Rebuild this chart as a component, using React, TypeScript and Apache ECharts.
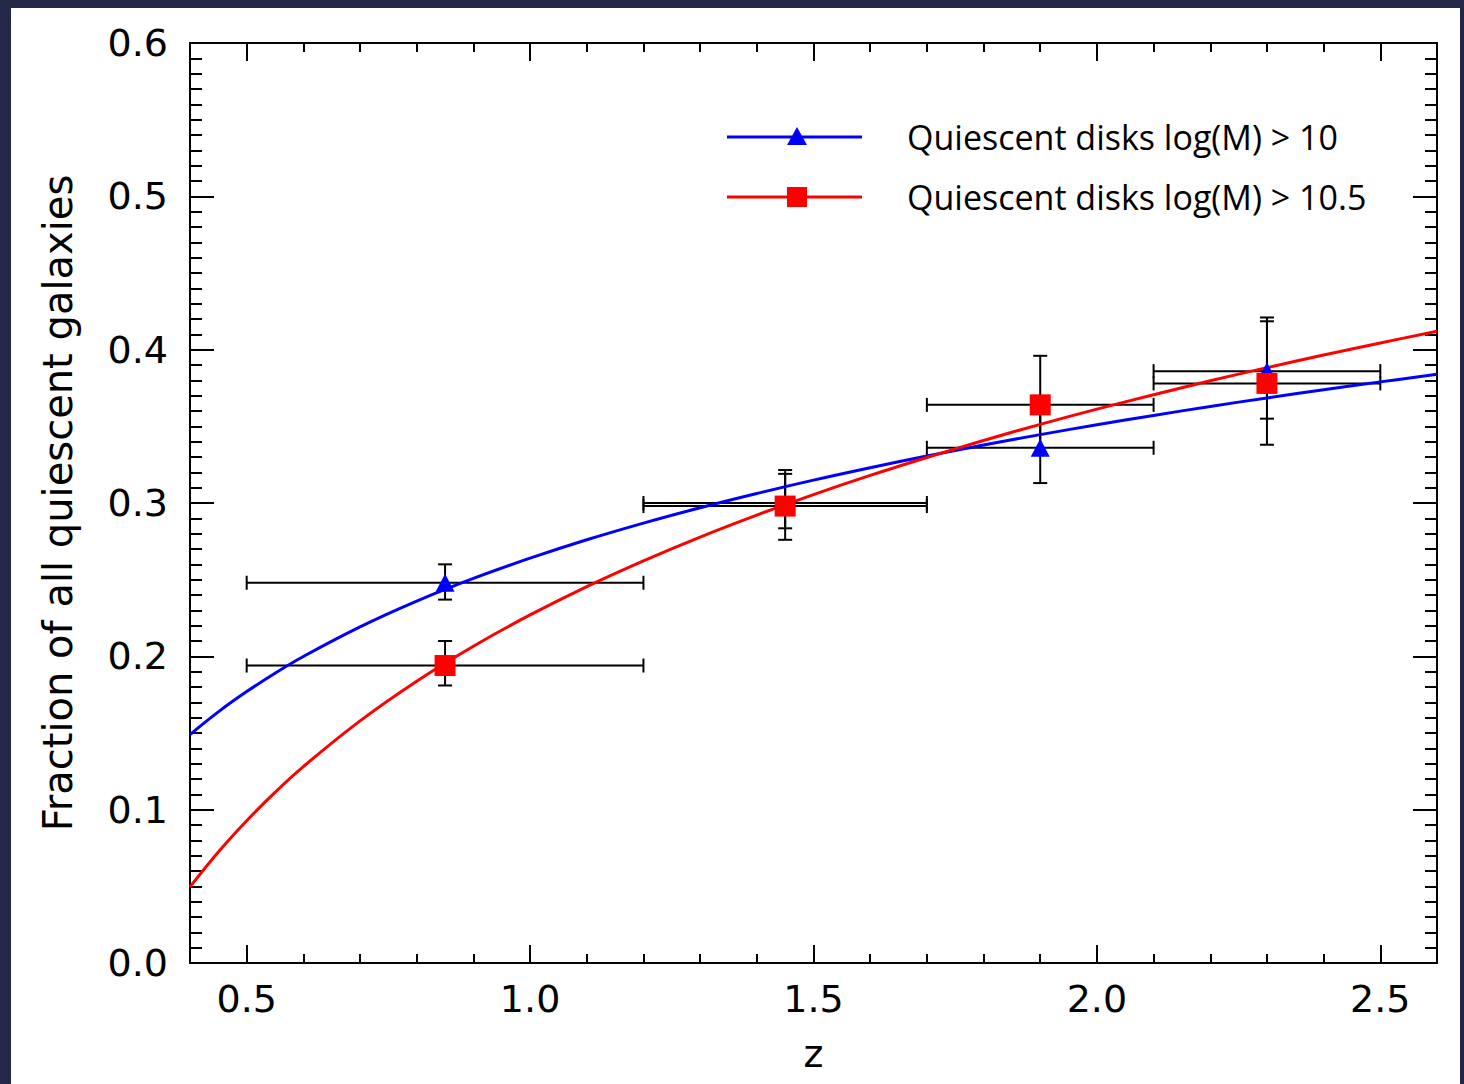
import React, { useEffect, useRef } from "react";
import * as echarts from "echarts";

// Fit curves (z, fraction)
const zFit = [0.4, 0.45, 0.5, 0.55, 0.6, 0.7, 0.8, 0.9, 1.0, 1.1, 1.2, 1.3, 1.4, 1.5, 1.6, 1.7, 1.8, 1.9, 2.0, 2.1, 2.2, 2.3, 2.4, 2.5, 2.6];
const fitLowMass = [0.149, 0.1638, 0.177, 0.189, 0.1999, 0.2192, 0.236, 0.2508, 0.264, 0.276, 0.2869, 0.2969, 0.3062, 0.3149, 0.323, 0.3306, 0.3378, 0.3446, 0.351, 0.3571, 0.363, 0.3685, 0.3739, 0.379, 0.3839];
const fitHighMass = [0.0496, 0.0724, 0.0928, 0.1113, 0.1281, 0.1579, 0.1838, 0.2066, 0.227, 0.2455, 0.2623, 0.2778, 0.2921, 0.3055, 0.318, 0.3297, 0.3408, 0.3513, 0.3612, 0.3706, 0.3797, 0.3883, 0.3965, 0.4044, 0.412];

// Binned measurements
const zBins = [0.85, 1.45, 1.9, 2.3];
const zBinLow = [0.5, 1.2, 1.7, 2.1];
const zBinHigh = [1.2, 1.7, 2.1, 2.5];
const fracLowMass = [0.248, 0.3, 0.336, 0.386];
const fracLowMassErrLow = [0.237, 0.2835, 0.313, 0.355];
const fracLowMassErrHigh = [0.26, 0.3215, 0.359, 0.4185];
const fracHighMass = [0.194, 0.298, 0.364, 0.378];
const fracHighMassErrLow = [0.181, 0.276, 0.332, 0.338];
const fracHighMassErrHigh = [0.21, 0.319, 0.396, 0.421];

const xMajorTicks = [0.5, 1.0, 1.5, 2.0, 2.5];
const seriesNames = ["Quiescent disks log(M) > 10", "Quiescent disks log(M) > 10.5"];
const xName = "z";
const yName = "Fraction of all quiescent galaxies";

const BLUE = "#0000ff";
const RED = "#ff0000";
const TICK_FONT = "'DejaVu Sans', sans-serif";

export default function App() {
  const ref = useRef<HTMLDivElement>(null);
  useEffect(() => {
    if (!ref.current) return;
    const chart = echarts.init(ref.current, null, { renderer: "svg" });

    const errData = (vals: number[], lo: number[], hi: number[]) =>
      zBins.map((z, i) => [z, vals[i], zBinLow[i], zBinHigh[i], lo[i], hi[i]]);

    const errRender = (params: any, api: any) => {
      const x = api.value(0), y = api.value(1);
      const xl = api.value(2), xh = api.value(3), yl = api.value(4), yh = api.value(5);
      const pL = api.coord([xl, y]);
      const pR = api.coord([xh, y]);
      const pB = api.coord([x, yl]);
      const pT = api.coord([x, yh]);
      const cap = 7;
      const style = { stroke: "#000", lineWidth: 2 };
      const ln = (x1: number, y1: number, x2: number, y2: number) => ({ type: "line", shape: { x1, y1, x2, y2 }, style });
      return {
        type: "group",
        children: [
          ln(pL[0], pL[1], pR[0], pR[1]),
          ln(pL[0], pL[1] - cap, pL[0], pL[1] + cap),
          ln(pR[0], pR[1] - cap, pR[0], pR[1] + cap),
          ln(pB[0], pB[1], pT[0], pT[1]),
          ln(pB[0] - cap, pB[1], pB[0] + cap, pB[1]),
          ln(pT[0] - cap, pT[1], pT[0] + cap, pT[1]),
        ],
      };
    };

    const axisLine = { show: true, lineStyle: { color: "#000", width: 2 } };
    const baseX = { type: "value", min: 0.4, max: 2.6, splitLine: { show: false } };

    const legendY = [137 - 8, 197 - 8];
    const option: any = {
      animation: false,
      backgroundColor: "#ffffff",
      grid: { left: 179, top: 35, right: 23, bottom: 121, containLabel: false },
      xAxis: [
        {
          ...baseX,
          position: "bottom",
          interval: 0.1,
          axisLine: { ...axisLine, onZero: false },
          axisTick: { show: true, inside: true, length: 9, lineStyle: { color: "#000", width: 2 } },
          axisLabel: {
            show: true,
            customValues: xMajorTicks,
            formatter: (v: number) => v.toFixed(1),
            color: "#000",
            fontFamily: TICK_FONT,
            fontSize: 38,
            margin: 17,
          },
          name: xName,
          nameLocation: "middle",
          nameGap: 72,
          nameTextStyle: { color: "#000", fontFamily: TICK_FONT, fontSize: 38 },
        },
        {
          ...baseX,
          position: "bottom",
          axisLine: { show: false, onZero: false },
          axisTick: { show: true, inside: true, length: 18, customValues: xMajorTicks, lineStyle: { color: "#000", width: 2 } },
          axisLabel: { show: false },
        },
        {
          ...baseX,
          position: "top",
          interval: 0.1,
          axisLine: { ...axisLine, onZero: false },
          axisTick: { show: true, inside: true, length: 9, lineStyle: { color: "#000", width: 2 } },
          axisLabel: { show: false },
        },
        {
          ...baseX,
          position: "top",
          axisLine: { show: false, onZero: false },
          axisTick: { show: true, inside: true, length: 18, customValues: xMajorTicks, lineStyle: { color: "#000", width: 2 } },
          axisLabel: { show: false },
        },
      ],
      yAxis: [
        {
          type: "value",
          min: 0,
          max: 0.6,
          interval: 0.1,
          position: "left",
          splitLine: { show: false },
          axisLine: { ...axisLine, onZero: false },
          axisTick: { show: true, inside: true, length: 24, lineStyle: { color: "#000", width: 2 } },
          minorTick: { show: true, splitNumber: 10, length: 12, lineStyle: { color: "#000", width: 2 } },
          axisLabel: {
            formatter: (v: number) => v.toFixed(1),
            color: "#000",
            fontFamily: TICK_FONT,
            fontSize: 38,
            margin: 22,
          },
          name: yName,
          nameLocation: "middle",
          nameGap: 112,
          nameRotate: 90,
          nameTextStyle: { color: "#000", fontFamily: TICK_FONT, fontSize: 40 },
        },
        {
          type: "value",
          min: 0,
          max: 0.6,
          interval: 0.1,
          position: "right",
          splitLine: { show: false },
          axisLine: { ...axisLine, onZero: false },
          axisTick: { show: true, inside: true, length: 24, lineStyle: { color: "#000", width: 2 } },
          minorTick: { show: true, splitNumber: 10, length: 12, lineStyle: { color: "#000", width: 2 } },
          axisLabel: { show: false },
        },
      ],
      series: [
        {
          type: "custom",
          name: "err-low",
          xAxisIndex: 0,
          yAxisIndex: 0,
          z: 2,
          renderItem: errRender,
          data: errData(fracLowMass, fracLowMassErrLow, fracLowMassErrHigh),
          encode: { x: 0, y: 1 },
        },
        {
          type: "custom",
          name: "err-high",
          xAxisIndex: 0,
          yAxisIndex: 0,
          z: 2,
          renderItem: errRender,
          data: errData(fracHighMass, fracHighMassErrLow, fracHighMassErrHigh),
          encode: { x: 0, y: 1 },
        },
        {
          type: "line",
          name: seriesNames[0] + " fit",
          xAxisIndex: 0,
          yAxisIndex: 0,
          z: 3,
          smooth: 0.4,
          showSymbol: false,
          lineStyle: { color: BLUE, width: 3 },
          data: zFit.map((z, i) => [z, fitLowMass[i]]),
        },
        {
          type: "line",
          name: seriesNames[1] + " fit",
          xAxisIndex: 0,
          yAxisIndex: 0,
          z: 3,
          smooth: 0.4,
          showSymbol: false,
          lineStyle: { color: RED, width: 3 },
          data: zFit.map((z, i) => [z, fitHighMass[i]]),
        },
        {
          type: "scatter",
          name: seriesNames[0],
          xAxisIndex: 0,
          yAxisIndex: 0,
          z: 4,
          symbol: "triangle",
          symbolSize: [19, 18],
          itemStyle: { color: BLUE, opacity: 1 },
          data: zBins.map((z, i) => [z, fracLowMass[i]]),
        },
        {
          type: "scatter",
          name: seriesNames[1],
          xAxisIndex: 0,
          yAxisIndex: 0,
          z: 5,
          symbol: "rect",
          symbolSize: 21,
          itemStyle: { color: RED, opacity: 1 },
          data: zBins.map((z, i) => [z, fracHighMass[i]]),
        },
      ],
      graphic: [
        { type: "line", shape: { x1: 716, y1: legendY[0], x2: 851, y2: legendY[0] }, style: { stroke: BLUE, lineWidth: 3 } },
        { type: "polygon", shape: { points: [[786, legendY[0] - 10], [796, legendY[0] + 8], [776, legendY[0] + 8]] }, style: { fill: BLUE } },
        { type: "line", shape: { x1: 716, y1: legendY[1], x2: 851, y2: legendY[1] }, style: { stroke: RED, lineWidth: 3 } },
        { type: "rect", shape: { x: 776, y: legendY[1] - 10, width: 20, height: 20 }, style: { fill: RED } },
        {
          type: "text",
          x: 896,
          y: legendY[0],
          style: { text: seriesNames[0], fill: "#000", font: "34px 'Open Sans', sans-serif", verticalAlign: "middle" },
        },
        {
          type: "text",
          x: 896,
          y: legendY[1],
          style: { text: seriesNames[1], fill: "#000", font: "34px 'Open Sans', sans-serif", verticalAlign: "middle" },
        },
      ],
    };
    chart.setOption(option);
    return () => chart.dispose();
  }, []);

  return (
    <div style={{ position: "absolute", left: 0, top: 0, width: 1464, height: 1084, background: "#242847", overflow: "hidden" }}>
      <div ref={ref} style={{ position: "absolute", left: 11, top: 8, width: 1449, height: 1076, background: "#fff" }} />
    </div>
  );
}
